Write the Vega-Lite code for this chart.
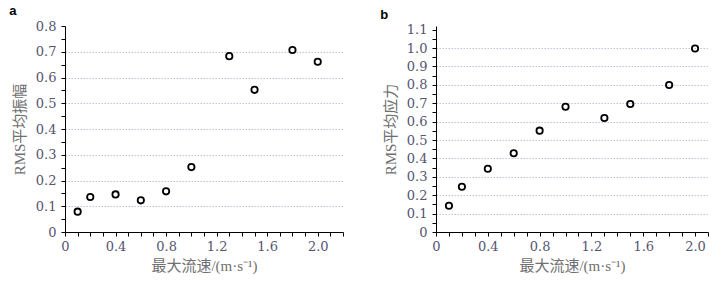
{
  "$schema": "https://vega.github.io/schema/vega-lite/v6.json",
  "padding": {"left": 9, "top": 5, "right": 5, "bottom": 5},
  "background": "white",
  "spacing": 36,
  "config": {
    "view": {"stroke": null},
    "title": {"font": "Liberation Sans", "fontSize": 13, "fontWeight": "bold", "anchor": "start", "frame": "bounds", "color": "#000000", "offset": 2, "dx": -3}
  },
  "hconcat": [
    {
      "title": "a",
      "width": 278,
      "height": 206,
      "data": {"values": [
        {"v": 0.1, "r": 0.079},
        {"v": 0.2, "r": 0.136},
        {"v": 0.4, "r": 0.146},
        {"v": 0.6, "r": 0.123},
        {"v": 0.8, "r": 0.158},
        {"v": 1.0, "r": 0.252},
        {"v": 1.3, "r": 0.683},
        {"v": 1.5, "r": 0.552},
        {"v": 1.8, "r": 0.707},
        {"v": 2.0, "r": 0.661}
      ]},
      "mark": {"type": "point", "shape": "circle", "filled": false, "stroke": "#000000", "strokeWidth": 1.8, "size": 40, "opacity": 1},
      "encoding": {
        "x": {"field": "v", "type": "quantitative", "scale": {"domain": [0, 2.2], "nice": false},
          "axis": {"title": "最大流速/(m·s⁻¹)", "grid": false, "values": [0,0.1,0.2,0.3,0.4,0.5,0.6,0.7,0.8,0.9,1.0,1.1,1.2,1.3,1.4,1.5,1.6,1.7,1.8,1.9,2.0,2.1,2.2],
            "labelExpr": "indexof([0,4,8,12,16,20], round(datum.value*10)) >= 0 ? (datum.value == 0 ? '0' : format(datum.value, '.1f')) : ''",
            "labelFont": "DejaVu Serif", "labelFontSize": 13, "labelColor": "#555570",
            "titleFont": "Liberation Serif, Noto Sans CJK SC", "titleFontSize": 15, "titleFontWeight": "normal", "titleColor": "#707070",
            "domainColor": "#000000", "ticks": true, "tickColor": "#000000", "tickSize": 4, "tickWidth": 1,
            "labelOverlap": false, "labelFlush": false,
            "labelPadding": 4, "titlePadding": 5}},
        "y": {"field": "r", "type": "quantitative", "scale": {"domain": [0, 0.8], "nice": false},
          "axis": {"title": "RMS平均振幅", "grid": true,
            "values": [0,0.05,0.1,0.15,0.2,0.25,0.3,0.35,0.4,0.45,0.5,0.55,0.6,0.65,0.7,0.75,0.8],
            "labelExpr": "round(datum.value*20) % 2 == 0 ? (datum.value == 0 ? '0' : format(datum.value, '.1f')) : ''",
            "labelFont": "DejaVu Serif", "labelFontSize": 13, "labelColor": "#555570",
            "titleFont": "Liberation Serif, Noto Sans CJK SC", "titleFontSize": 15, "titleFontWeight": "normal", "titleColor": "#707070",
            "domainColor": "#000000", "ticks": true, "tickColor": "#000000", "tickSize": 4, "tickWidth": 1,
            "labelOverlap": false, "labelFlush": false,
            "gridColor": "#c2c2dc", "gridDash": [1.5, 1.5], "gridWidth": 1,
            "gridOpacity": {"condition": {"test": "round(datum.value*20) % 2 == 0 && datum.value > 0.01 && datum.value < 0.75", "value": 1}, "value": 0},
            "labelPadding": 5, "titlePadding": 8}}
      }
    },
    {
      "title": "b",
      "width": 272,
      "height": 206,
      "data": {"values": [
        {"v": 0.1, "r": 0.143},
        {"v": 0.2, "r": 0.246},
        {"v": 0.4, "r": 0.344},
        {"v": 0.6, "r": 0.428},
        {"v": 0.8, "r": 0.551},
        {"v": 1.0, "r": 0.681},
        {"v": 1.3, "r": 0.620},
        {"v": 1.5, "r": 0.696},
        {"v": 1.8, "r": 0.799},
        {"v": 2.0, "r": 0.998}
      ]},
      "mark": {"type": "point", "shape": "circle", "filled": false, "stroke": "#000000", "strokeWidth": 1.8, "size": 40, "opacity": 1},
      "encoding": {
        "x": {"field": "v", "type": "quantitative", "scale": {"domain": [0, 2.1], "nice": false},
          "axis": {"title": "最大流速/(m·s⁻¹)", "grid": false, "values": [0,0.1,0.2,0.3,0.4,0.5,0.6,0.7,0.8,0.9,1.0,1.1,1.2,1.3,1.4,1.5,1.6,1.7,1.8,1.9,2.0,2.1],
            "labelExpr": "indexof([0,4,8,12,16,20], round(datum.value*10)) >= 0 ? (datum.value == 0 ? '0' : format(datum.value, '.1f')) : ''",
            "labelFont": "DejaVu Serif", "labelFontSize": 13, "labelColor": "#555570",
            "titleFont": "Liberation Serif, Noto Sans CJK SC", "titleFontSize": 15, "titleFontWeight": "normal", "titleColor": "#707070",
            "domainColor": "#000000", "ticks": true, "tickColor": "#000000", "tickSize": 4, "tickWidth": 1,
            "labelOverlap": false, "labelFlush": false,
            "labelPadding": 4, "titlePadding": 5}},
        "y": {"field": "r", "type": "quantitative", "scale": {"domain": [0, 1.12], "nice": false},
          "axis": {"title": "RMS平均应力", "grid": true,
            "values": [0,0.05,0.1,0.15,0.2,0.25,0.3,0.35,0.4,0.45,0.5,0.55,0.6,0.65,0.7,0.75,0.8,0.85,0.9,0.95,1.0,1.05,1.1],
            "labelExpr": "round(datum.value*20) % 2 == 0 ? (datum.value == 0 ? '0' : format(datum.value, '.1f')) : ''",
            "labelFont": "DejaVu Serif", "labelFontSize": 13, "labelColor": "#555570",
            "titleFont": "Liberation Serif, Noto Sans CJK SC", "titleFontSize": 15, "titleFontWeight": "normal", "titleColor": "#707070",
            "domainColor": "#000000", "ticks": true, "tickColor": "#000000", "tickSize": 4, "tickWidth": 1,
            "labelOverlap": false, "labelFlush": false,
            "gridColor": "#c2c2dc", "gridDash": [1.5, 1.5], "gridWidth": 1,
            "gridOpacity": {"condition": {"test": "round(datum.value*20) % 2 == 0 && datum.value > 0.01 && datum.value < 1.05", "value": 1}, "value": 0},
            "labelPadding": 5, "titlePadding": 8}}
      }
    }
  ]
}
